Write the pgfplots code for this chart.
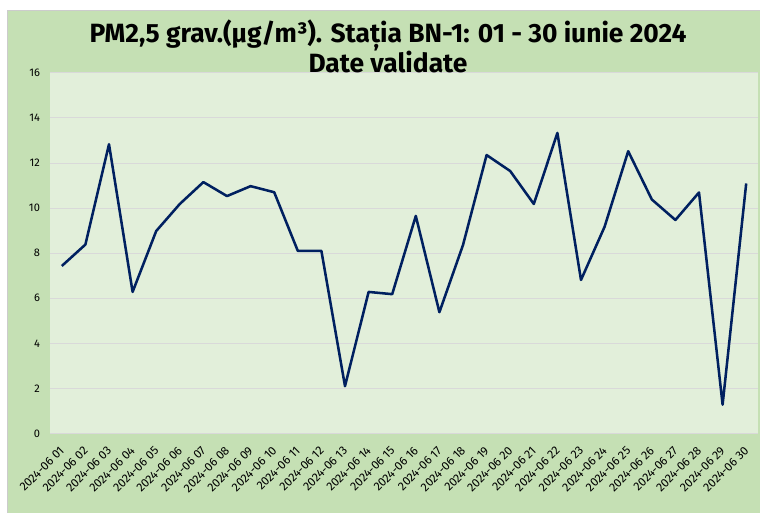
\documentclass[border=0pt]{standalone}
\usepackage{pgfplots}
\pgfplotsset{compat=1.18}
\usepackage{fontspec}
\setmainfont{Fira Sans}
\definecolor{chartbg}{HTML}{C5E0B4}
\definecolor{plotbg}{HTML}{E2EFDA}
\definecolor{linec}{HTML}{002060}
\definecolor{gridc}{HTML}{D9D9D9}
\begin{document}
\begin{tikzpicture}[x=1pt,y=1pt]
\useasboundingbox (0,0) rectangle (570,384.75);
\fill[white] (0,0) rectangle (570,384.75);
\fill[chartbg] (5.25,0) rectangle (570,377.25);
\draw[gray!40, line width=0.6pt] (5.25,-1) -- (5.25,377.25) -- (571,377.25);
\node[anchor=base, font=\bfseries\fontsize{19.8}{21}\selectfont] at (291,352.5) {PM2,5 grav.(µg/m³). Stația BN-1: 01 - 30 iunie 2024};
\begin{axis}[
  at={(37.5pt,59.6pt)}, anchor=south west,
  scale only axis, width=531pt, height=270.6pt,
  xmin=0.5, xmax=30.5, ymin=0, ymax=16,
  axis background/.style={fill=plotbg},
  axis line style={draw=none},
  ytick={0,2,...,16},
  ymajorgrids, grid style={gridc, line width=0.6pt},
  major tick length=0pt,
  xtick={1,...,30},
  xticklabels={2024-06 01,2024-06 02,2024-06 03,2024-06 04,2024-06 05,2024-06 06,2024-06 07,2024-06 08,2024-06 09,2024-06 10,2024-06 11,2024-06 12,2024-06 13,2024-06 14,2024-06 15,2024-06 16,2024-06 17,2024-06 18,2024-06 19,2024-06 20,2024-06 21,2024-06 22,2024-06 23,2024-06 24,2024-06 25,2024-06 26,2024-06 27,2024-06 28,2024-06 29,2024-06 30},
  x tick label style={yshift=-7.5pt, xshift=-2pt, rotate=45, anchor=north east, font=\fontsize{9}{10}\selectfont, inner sep=1pt},
  y tick label style={font=\fontsize{8.3}{9}\selectfont, xshift=-4pt},
  /pgf/number format/assume math mode=true,
  clip=false,
]
\addplot[linec, line width=1.9pt, line join=round, mark=none] coordinates {
(1,7.43) (2,8.38) (3,12.83) (4,6.28) (5,8.98) (6,10.18) (7,11.15) (8,10.53) (9,10.97) (10,10.70)
(11,8.10) (12,8.10) (13,2.10) (14,6.28) (15,6.18) (16,9.65) (17,5.38) (18,8.36) (19,12.35) (20,11.64)
(21,10.18) (22,13.33) (23,6.81) (24,9.17) (25,12.52) (26,10.38) (27,9.47) (28,10.69) (29,1.28) (30,11.09)
};
\end{axis}
\node[anchor=base, font=\bfseries\fontsize{19.8}{21}\selectfont] at (291,330) {Date validate};
\end{tikzpicture}
\end{document}
